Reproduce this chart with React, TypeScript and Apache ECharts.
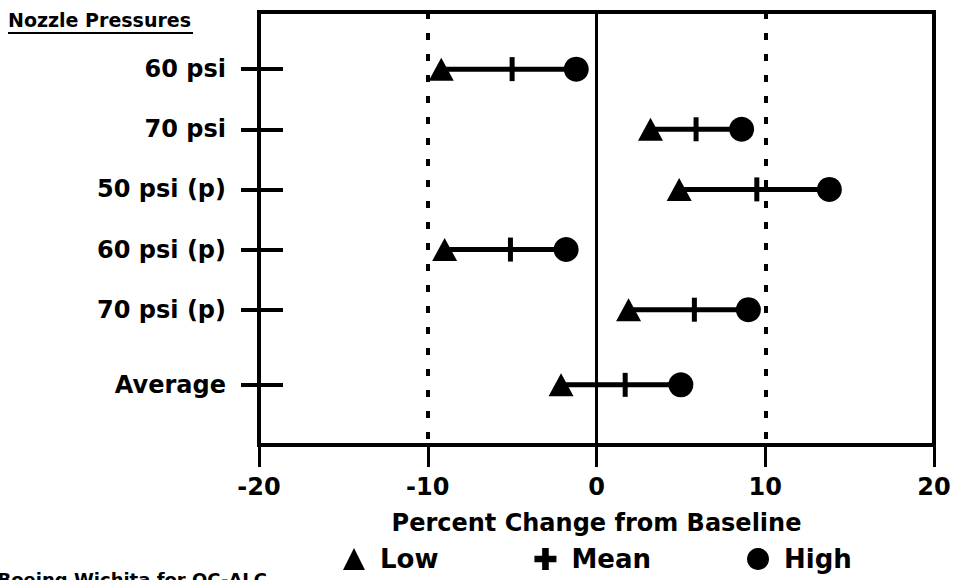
import React, { useEffect, useRef } from "react";
import * as echarts from "echarts";

const categories = ["60 psi", "70 psi", "50 psi (p)", "60 psi (p)", "70 psi (p)", "Average"];
const rowPos = [0.95, 1.95, 2.95, 3.95, 4.95, 6.2];
const lowValues = [-9.2, 3.2, 4.9, -9.0, 1.9, -2.1];
const meanValues = [-5.0, 5.9, 9.5, -5.1, 5.8, 1.7];
const highValues = [-1.2, 8.6, 13.8, -1.8, 9.0, 5.0];
const xTicks = [-20, -10, 0, 10, 20];
const refLines = [-10, 10];

const FONT = "DejaVu Sans, Verdana, sans-serif";
const PLUS = "path://M3.5,0 H6.5 V3.5 H10 V6.5 H6.5 V10 H3.5 V6.5 H0 V3.5 H3.5 Z";

export default function App() {
  const ref = useRef<HTMLDivElement>(null);
  useEffect(() => {
    if (!ref.current) return;
    const chart = echarts.init(ref.current, null, { renderer: "svg" });
    const labelFor = (v: number) => {
      const i = rowPos.findIndex((p) => Math.abs(p - v) < 1e-6);
      return i >= 0 ? categories[i] : "";
    };
    const yBase = {
      type: "value" as const,
      min: 0,
      max: 7.2,
      inverse: true,
      position: "left" as const,
      splitLine: { show: false },
      axisLine: { show: false, onZero: false },
    };
    const black = { color: "#000", opacity: 1 };
    chart.setOption({
      animation: false,
      textStyle: { fontFamily: FONT },
      grid: {
        left: 259,
        right: 25,
        top: 12,
        bottom: 135,
        show: true,
        borderColor: "#000",
        borderWidth: 4,
      },
      xAxis: {
        type: "value",
        min: -20,
        max: 20,
        interval: 10,
        splitLine: { show: false },
        axisLine: { show: false, onZero: false },
        axisTick: { show: true, length: 22, lineStyle: { color: "#000", width: 3 } },
        axisLabel: {
          margin: 30,
          color: "#000",
          fontSize: 24,
          fontWeight: "bold",
          fontFamily: FONT,
          customValues: xTicks,
        },
        name: "Percent Change from Baseline",
        nameLocation: "middle",
        nameGap: 66,
        nameTextStyle: { color: "#000", fontSize: 24, fontWeight: "bold", fontFamily: FONT },
      },
      yAxis: [
        {
          ...yBase,
          axisTick: {
            show: true,
            customValues: rowPos,
            length: 18,
            lineStyle: { color: "#000", width: 4 },
          },
          axisLabel: {
            customValues: rowPos,
            formatter: (v: number) => labelFor(v),
            margin: 33,
            color: "#000",
            fontSize: 24,
            fontWeight: "bold",
            fontFamily: FONT,
          },
        },
        {
          ...yBase,
          axisTick: {
            show: true,
            inside: true,
            customValues: rowPos,
            length: 24,
            lineStyle: { color: "#000", width: 4 },
          },
          axisLabel: { show: false },
        },
      ],
      legend: {
        left: 338,
        top: 541,
        itemWidth: 22,
        itemHeight: 22,
        itemGap: 96,
        textStyle: {
          color: "#000",
          fontSize: 26,
          fontWeight: "bold",
          fontFamily: FONT,
          padding: [0, 0, 0, 10],
        },
        data: [
          { name: "Low", icon: "triangle" },
          { name: "Mean", icon: PLUS },
          { name: "High", icon: "circle" },
        ],
      },
      graphic: [
        {
          type: "text",
          left: 8,
          top: 10,
          style: {
            text: "Nozzle Pressures",
            fill: "#000",
            font: `bold 19px ${FONT}`,
          },
        },
        {
          type: "line",
          shape: { x1: 8, y1: 33, x2: 193, y2: 33 },
          style: { stroke: "#000", lineWidth: 2 },
        },
        {
          type: "text",
          x: 267,
          y: 570,
          style: {
            text: "Boeing Wichita for OC-ALC",
            fill: "#000",
            align: "right",
            verticalAlign: "top",
            font: `bold 18px ${FONT}`,
          },
        },
      ],
      series: [
        {
          type: "line",
          name: "ref",
          data: [],
          silent: true,
          markLine: {
            symbol: "none",
            silent: true,
            label: { show: false },
            data: [
              { xAxis: 0, lineStyle: { color: "#000", width: 3, type: "solid", opacity: 1 } },
              ...refLines.map((v) => ({
                xAxis: v,
                lineStyle: { color: "#000", width: 4, type: [7, 14], opacity: 1 },
              })),
            ],
          },
        },
        {
          type: "custom",
          name: "range",
          silent: true,
          data: rowPos.map((p, i) => [lowValues[i], highValues[i], p]),
          encode: { x: [0, 1], y: 2 },
          renderItem: (params: any, api: any) => {
            const a = api.coord([api.value(0), api.value(2)]);
            const b = api.coord([api.value(1), api.value(2)]);
            return {
              type: "line",
              shape: { x1: a[0], y1: a[1], x2: b[0], y2: b[1] },
              style: { stroke: "#000", lineWidth: 5 },
            };
          },
          z: 2,
        },
        {
          type: "scatter",
          name: "Low",
          symbol: "triangle",
          symbolSize: [25, 23],
          itemStyle: black,
          data: rowPos.map((p, i) => [lowValues[i], p]),
          z: 3,
        },
        {
          type: "scatter",
          name: "Mean",
          symbol: "rect",
          symbolSize: [5, 24],
          itemStyle: black,
          data: rowPos.map((p, i) => [meanValues[i], p]),
          z: 3,
        },
        {
          type: "scatter",
          name: "High",
          symbol: "circle",
          symbolSize: 25,
          itemStyle: black,
          data: rowPos.map((p, i) => [highValues[i], p]),
          z: 3,
        },
      ],
    });
    return () => chart.dispose();
  }, []);
  return <div ref={ref} style={{ width: 959, height: 580, position: "absolute", left: 0, top: 0 }} />;
}
